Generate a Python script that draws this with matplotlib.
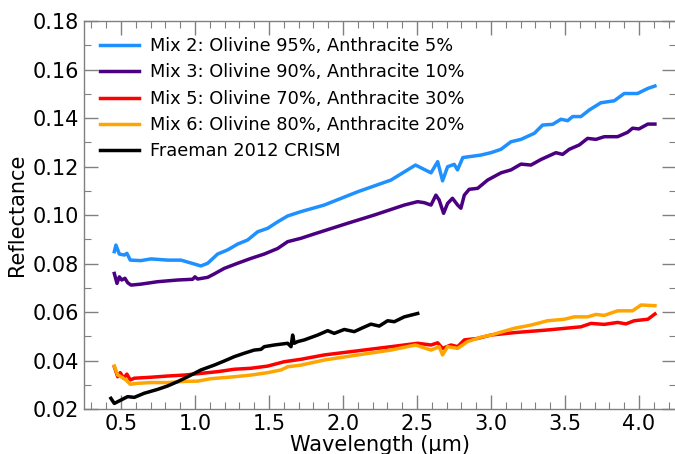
import numpy as np
import matplotlib
matplotlib.use('Agg')
import matplotlib.pyplot as plt
from matplotlib.ticker import MultipleLocator

# Mix 2: Olivine 95%, Anthracite 5%
mix2_wl = [0.455, 0.466, 0.489, 0.523, 0.54, 0.563, 0.635, 0.703, 0.815, 0.905,
           0.973, 1.04, 1.086, 1.153, 1.22, 1.288, 1.356, 1.424, 1.491, 1.559,
           1.626, 1.716, 1.873, 2.10, 2.324, 2.49, 2.595, 2.64, 2.673, 2.707,
           2.752, 2.774, 2.81, 2.93, 3.0, 3.068, 3.135, 3.203, 3.293, 3.349,
           3.417, 3.473, 3.518, 3.552, 3.608, 3.664, 3.743, 3.833, 3.90, 3.99,
           4.06, 4.108]
mix2_r = [0.0849, 0.0876, 0.0839, 0.0835, 0.0842, 0.0814, 0.0812, 0.0819, 0.0814, 0.0814,
          0.0802, 0.0790, 0.0801, 0.0839, 0.0856, 0.0880, 0.0897, 0.0931, 0.0945, 0.0972,
          0.0996, 0.1014, 0.1041, 0.1096, 0.1144, 0.1206, 0.1174, 0.1220, 0.1141, 0.1199,
          0.1209, 0.1186, 0.1237, 0.1247, 0.1257, 0.1271, 0.1302, 0.1312, 0.1337, 0.1371,
          0.1374, 0.1395, 0.1389, 0.1406, 0.1406, 0.1433, 0.1463, 0.1471, 0.1501, 0.1501,
          0.1522, 0.1532]

# Mix 3: Olivine 90%, Anthracite 10%
mix3_wl = [0.455, 0.473, 0.489, 0.505, 0.527, 0.545, 0.568, 0.635, 0.748, 0.883,
           0.984, 1.0, 1.018, 1.086, 1.13, 1.198, 1.288, 1.378, 1.468, 1.559,
           1.626, 1.716, 1.806, 2.032, 2.212, 2.414, 2.504, 2.549, 2.595, 2.628,
           2.65, 2.68, 2.707, 2.74, 2.775, 2.797, 2.82, 2.853, 2.91, 2.977,
           3.068, 3.135, 3.203, 3.27, 3.338, 3.439, 3.484, 3.529, 3.597, 3.653,
           3.709, 3.766, 3.856, 3.923, 3.957, 4.0, 4.06, 4.108]
mix3_r = [0.0759, 0.0718, 0.0745, 0.0732, 0.0739, 0.0721, 0.0711, 0.0715, 0.0725, 0.0732,
          0.0735, 0.0745, 0.0736, 0.0743, 0.0757, 0.0780, 0.0801, 0.0821, 0.0839, 0.0862,
          0.0890, 0.0904, 0.0922, 0.0966, 0.1000, 0.1041, 0.1055, 0.1051, 0.1041, 0.1082,
          0.1062, 0.1007, 0.1048, 0.1069, 0.1041, 0.1028, 0.1082, 0.1106, 0.1110, 0.1144,
          0.1174, 0.1186, 0.1210, 0.1206, 0.1229, 0.1257, 0.1250, 0.1271, 0.1289, 0.1316,
          0.1312, 0.1323, 0.1323, 0.1341, 0.1358, 0.1355, 0.1375, 0.1375]

# Mix 5: Olivine 70%, Anthracite 30%
mix5_wl = [0.455, 0.478, 0.495, 0.518, 0.54, 0.563, 0.59, 0.703, 0.815, 0.928,
           1.04, 1.153, 1.266, 1.378, 1.491, 1.603, 1.716, 1.874, 2.1, 2.324,
           2.505, 2.595, 2.64, 2.673, 2.73, 2.775, 2.82, 2.91, 3.0, 3.158,
           3.383, 3.608, 3.676, 3.766, 3.856, 3.912, 3.968, 4.06, 4.108]
mix5_r = [0.0374, 0.0333, 0.0350, 0.0327, 0.0344, 0.0320, 0.0327, 0.0331, 0.0336, 0.0340,
          0.0347, 0.0354, 0.0364, 0.0368, 0.0377, 0.0395, 0.0405, 0.0423, 0.0440, 0.0457,
          0.0471, 0.0464, 0.0473, 0.0450, 0.0464, 0.0457, 0.0485, 0.0491, 0.0505, 0.0515,
          0.0526, 0.0539, 0.0553, 0.0549, 0.0557, 0.0551, 0.0564, 0.0570, 0.0592]

# Mix 6: Olivine 80%, Anthracite 20%
mix6_wl = [0.455, 0.478, 0.5, 0.534, 0.563, 0.613, 0.703, 0.815, 0.928, 1.018,
           1.108, 1.266, 1.378, 1.491, 1.581, 1.626, 1.716, 1.874, 2.1, 2.324,
           2.49, 2.595, 2.65, 2.673, 2.707, 2.775, 2.842, 2.932, 3.0, 3.158,
           3.27, 3.383, 3.495, 3.563, 3.653, 3.709, 3.766, 3.856, 3.957, 4.014,
           4.108]
mix6_r = [0.0377, 0.0340, 0.0333, 0.0320, 0.0302, 0.0306, 0.0309, 0.0309, 0.0314, 0.0315,
          0.0325, 0.0333, 0.0340, 0.0350, 0.0361, 0.0374, 0.0381, 0.0402, 0.0423, 0.0443,
          0.0464, 0.0443, 0.0457, 0.0423, 0.0457, 0.0450, 0.0478, 0.0496, 0.0505, 0.0533,
          0.0546, 0.0564, 0.0570, 0.0580, 0.0580, 0.0590, 0.0586, 0.0605, 0.0605, 0.0629,
          0.0626]

# Fraeman 2012 CRISM
crism_wl = [0.432, 0.455, 0.5, 0.545, 0.59, 0.657, 0.748, 0.815, 0.883, 0.951,
            1.04, 1.13, 1.198, 1.266, 1.333, 1.4, 1.446, 1.468, 1.536, 1.626,
            1.649, 1.66, 1.671, 1.694, 1.739, 1.829, 1.897, 1.941, 2.009, 2.076,
            2.133, 2.189, 2.245, 2.302, 2.347, 2.414, 2.505]
crism_r = [0.0244, 0.0223, 0.0237, 0.0251, 0.0248, 0.0265, 0.0281, 0.0295, 0.0313, 0.0333,
           0.0361, 0.0381, 0.0398, 0.0416, 0.0430, 0.0443, 0.0446, 0.0457, 0.0464, 0.0471,
           0.0457, 0.0505, 0.0471, 0.0478, 0.0485, 0.0505, 0.0523, 0.0512, 0.0528, 0.0519,
           0.0535, 0.0550, 0.0542, 0.0564, 0.0560, 0.0580, 0.0594]

series = [
    (mix2_wl, mix2_r, '#1E90FF', 'Mix 2: Olivine 95%, Anthracite 5%'),
    (mix3_wl, mix3_r, '#4B0082', 'Mix 3: Olivine 90%, Anthracite 10%'),
    (mix5_wl, mix5_r, '#FF0000', 'Mix 5: Olivine 70%, Anthracite 30%'),
    (mix6_wl, mix6_r, '#FFA500', 'Mix 6: Olivine 80%, Anthracite 20%'),
    (crism_wl, crism_r, 'black', 'Fraeman 2012 CRISM'),
]

fig = plt.figure(figsize=(6.75, 4.54), dpi=100)
ax = fig.add_axes([0.1244, 0.0991, 0.877, 0.8546])

for wl, r, c, lab in series:
    ax.plot(wl, r, color=c, lw=2.5, label=lab)

ax.set_xlim(0.25, 4.25)
ax.set_ylim(0.02, 0.18)
ax.xaxis.set_major_locator(MultipleLocator(0.5))
ax.xaxis.set_minor_locator(MultipleLocator(0.1))
ax.yaxis.set_major_locator(MultipleLocator(0.02))
ax.yaxis.set_minor_locator(MultipleLocator(0.01))
ax.xaxis.set_major_formatter(plt.FormatStrFormatter('%.1f'))
ax.yaxis.set_major_formatter(plt.FormatStrFormatter('%.2f'))

ax.tick_params(which='both', direction='in', top=True, right=True,
               color='gray', labelsize=15)
ax.tick_params(which='major', length=10, width=1)
ax.tick_params(which='minor', length=5, width=0.8)
for sp in ax.spines.values():
    sp.set_color('gray')
    sp.set_linewidth(1)

ax.set_xlabel('Wavelength (µm)', fontsize=15, labelpad=1)
ax.set_ylabel('Reflectance', fontsize=15)

ax.legend(loc='upper left', frameon=False, fontsize=12.8, handlelength=2.2,
          handletextpad=0.6, labelspacing=0.47)

plt.savefig('out.png', dpi=100)
plt.close()
